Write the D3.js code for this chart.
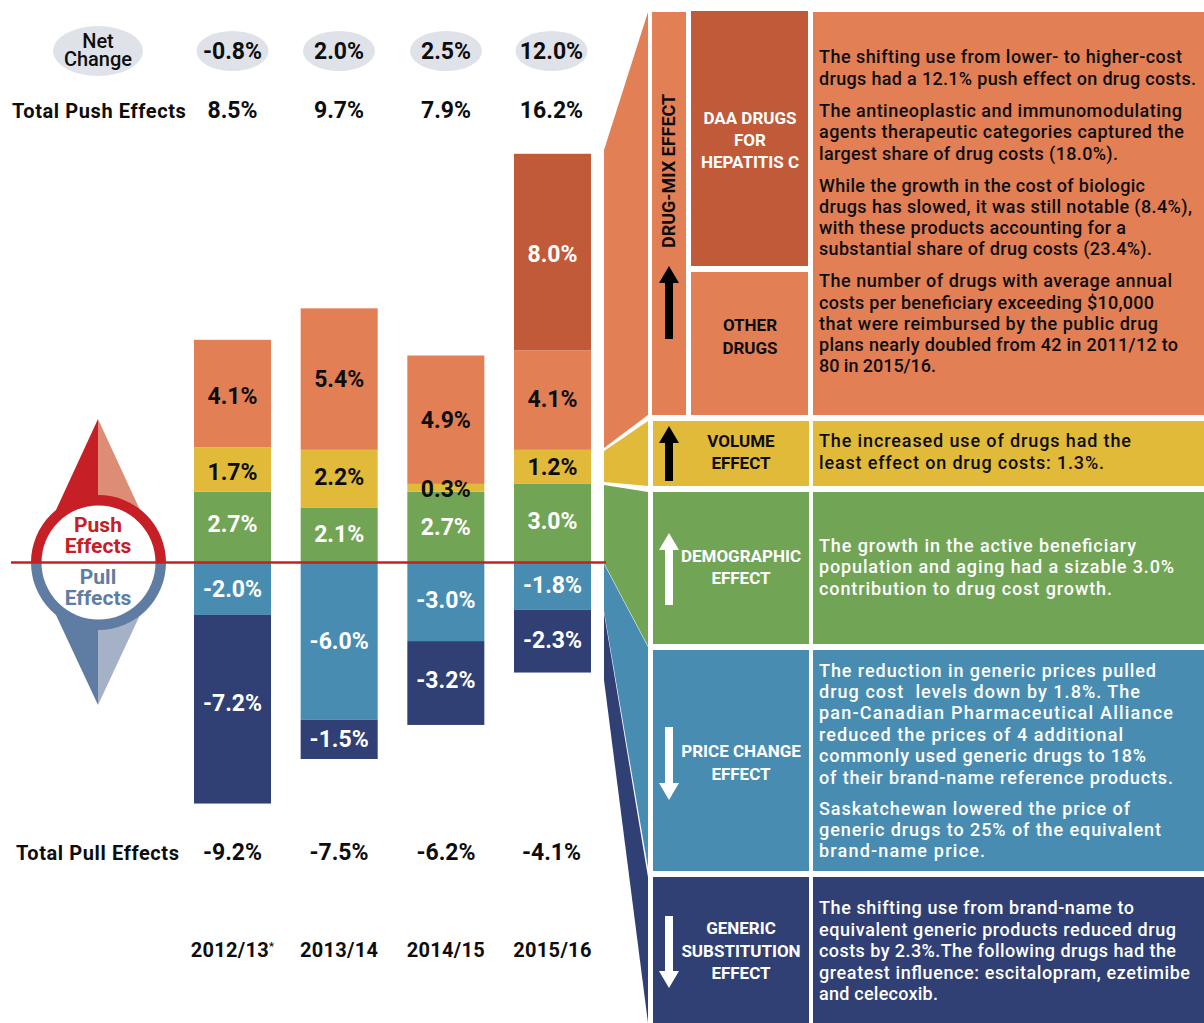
<!DOCTYPE html>
<html><head><meta charset="utf-8">
<script src="https://cdnjs.cloudflare.com/ajax/libs/d3/7.8.5/d3.min.js"></script>
<style>html,body{margin:0;padding:0;background:#fff}svg{display:block}text{font-family:Roboto,sans-serif;white-space:pre}</style>
</head><body><svg id="c" width="1204" height="1023"></svg>
<script>
const years=["2012/13","2013/14","2014/15","2015/16"];
const netChange=["-0.8%","2.0%","2.5%","12.0%"];
const totalPush=["8.5%","9.7%","7.9%","16.2%"];
const totalPull=["-9.2%","-7.5%","-6.2%","-4.1%"];
// bar lengths as drawn in the picture (percentage points), printed labels beside them
const demographic=[2.7,2.1,2.7,3.0];
const volume=[1.7,2.2,0.3,1.3];
const otherDrugs=[4.1,5.4,4.9,3.8];
const daaDrugs=[0,0,0,7.5];
const priceChange=[-2.0,-6.0,-3.0,-1.8];
const genericSub=[-7.2,-1.5,-3.2,-2.4];
const demographicLabels=["2.7%","2.1%","2.7%","3.0%"];
const volumeLabels=["1.7%","2.2%","0.3%","1.2%"];
const otherLabels=["4.1%","5.4%","4.9%","4.1%"];
const daaLabels=["","","","8.0%"];
const priceLabels=["-2.0%","-6.0%","-3.0%","-1.8%"];
const genericLabels=["-7.2%","-1.5%","-3.2%","-2.3%"];

const C={daa:"#c05a38",orange:"#e27f55",yellow:"#e1ba3a",green:"#72a455",blue:"#488db1",navy:"#303f74",red:"#c62026",slate:"#5f7da3",oval:"#e0e2ea",ink:"#0d0d0d"};
const svg=d3.select("#c");
const x=d3.scaleBand().domain(years).range([194,591]).paddingInner(0.278).paddingOuter(0);
const y=d3.scaleLinear().domain([-10,10]).range([562.5+262,562.5-262]);
const cx=d=>x(d)+x.bandwidth()/2;

function txt(g,s,tx,ty,o={}){
  return g.append("text").attr("x",tx).attr("y",ty).attr("text-anchor",o.a||"middle")
   .attr("font-size",o.s||20).attr("font-weight",o.w||700).attr("fill",o.f||C.ink)
   .attr("letter-spacing",o.ls||0).text(s);
}
function poly(pts,f){svg.append("polygon").attr("points",pts.map(p=>p.join(",")).join(" ")).attr("fill",f);}

// wedges
poly([[604,150],[648,12],[648,415],[604,448]],C.orange);
poly([[604,451],[648,421],[648,486],[604,482]],C.yellow);
poly([[604,485],[648,492],[648,646],[604,563]],C.green);
poly([[604,564],[648,647],[648,868],[604,611]],C.blue);
poly([[604,613],[648,877],[648,1023],[604,680]],C.navy);

// stacked bars; label nudges keep each printed figure where the source set it
const g=svg.append("g");
const posSeries=[[demographic,demographicLabels,C.green,"#fff",[-3,-1,0,-2]],[volume,volumeLabels,C.yellow,C.ink,[3,-2,1,0]],[otherDrugs,otherLabels,C.orange,C.ink,[2,0,0,-1]],[daaDrugs,daaLabels,C.daa,"#fff",[0,0,0,2]]];
const negSeries=[[priceChange,priceLabels,C.blue,"#fff",[0,0,-2,-1]],[genericSub,genericLabels,C.navy,"#fff",[-6,0,-3,-1]]];
function stack(series){
  const base=years.map(()=>0);
  series.forEach(([vals,labels,col])=>{
    years.forEach((yr,i)=>{
      const v=vals[i]; if(!v)return;
      const a=base[i],b=a+v; base[i]=b;
      g.append("rect").attr("x",x(yr)).attr("width",x.bandwidth())
       .attr("y",Math.min(y(a),y(b))).attr("height",Math.abs(y(a)-y(b))).attr("fill",col);
    });
  });
  const base2=years.map(()=>0);
  series.forEach(([vals,labels,col,tc,nudge])=>{
    years.forEach((yr,i)=>{
      const v=vals[i]; if(!v)return;
      const a=base2[i],b=a+v; base2[i]=b;
      txt(g,labels[i],cx(yr),(y(a)+y(b))/2+8+nudge[i],{f:tc,s:23});
    });
  });
}
stack(posSeries);stack(negSeries);

// header rows
svg.append("ellipse").attr("cx",98).attr("cy",51).attr("rx",45).attr("ry",25).attr("fill",C.oval);
txt(svg,"Net",98,48,{s:20,w:500});txt(svg,"Change",98,66,{s:20,w:500});
const cols=[232.5,339,446,551.5];
years.forEach((yr,i)=>{
  svg.append("ellipse").attr("cx",cols[i]).attr("cy",51).attr("rx",36).attr("ry",20).attr("fill",C.oval);
  txt(svg,netChange[i],cols[i],59,{s:23});
  txt(svg,totalPush[i],cols[i],118,{s:23});
  txt(svg,totalPull[i],cols[i],860,{s:23});
  const t=txt(svg,yr,cx(yr),957,{s:20,ls:0.3});
  if(i==0) t.append("tspan").attr("dy",-7).attr("font-size",11).text("*");
});
txt(svg,"Total Push Effects",12,118,{a:"start",s:20,ls:0.6});
txt(svg,"Total Pull Effects",16,860,{a:"start",s:20,ls:0.6});

// compass
poly([[98,419],[98,500],[56,510]],C.red);
poly([[98,419],[98,500],[140,510]],"#dd8d75");
poly([[98,705],[98,620],[56,615]],C.slate);
poly([[98,705],[98,620],[140,615]],"#a5b1c7");
const arc=d3.arc().innerRadius(57).outerRadius(67.5);
const comp=svg.append("g").attr("transform","translate(98.5,562.5)");
comp.append("circle").attr("r",60).attr("fill","#fff");
comp.append("path").attr("d",arc({startAngle:-Math.PI/2,endAngle:Math.PI/2})).attr("fill",C.red);
comp.append("path").attr("d",arc({startAngle:Math.PI/2,endAngle:3*Math.PI/2})).attr("fill",C.slate);
txt(svg,"Push",98,532,{s:21,f:C.red});txt(svg,"Effects",98,553,{s:21,f:C.red});
txt(svg,"Pull",98,584,{s:21,f:C.slate});txt(svg,"Effects",98,605,{s:21,f:C.slate});
svg.append("line").attr("x1",11).attr("x2",606).attr("y1",562.5).attr("y2",562.5).attr("stroke",C.red).attr("stroke-width",2.5);

// right panel blocks
const blocks=[[652,12,34,403,C.orange],[691,11,117,255,C.daa],[691,272,117,143,C.orange],[813,12,391,403,C.orange],
[653,421,156,65,C.yellow],[813,421,391,65,C.yellow],[653,492,156,152,C.green],[813,492,391,152,C.green],
[653,650,156,221,C.blue],[813,650,391,221,C.blue],[653,877,156,146,C.navy],[813,877,391,146,C.navy]];
blocks.forEach(b=>svg.append("rect").attr("x",b[0]).attr("y",b[1]).attr("width",b[2]).attr("height",b[3]).attr("fill",b[4]));

function arrow(ax,top,bot,up,f){
  const hw=10,hh=17,sw=4;
  const p=up?[[ax,top],[ax+hw,top+hh],[ax+sw,top+hh],[ax+sw,bot],[ax-sw,bot],[ax-sw,top+hh],[ax-hw,top+hh]]
            :[[ax,bot],[ax+hw,bot-hh],[ax+sw,bot-hh],[ax+sw,top],[ax-sw,top],[ax-sw,bot-hh],[ax-hw,bot-hh]];
  poly(p,f);
}
arrow(669,266,339,true,"#000");
arrow(669,426,481,true,"#000");
arrow(669,533,605,true,"#fff");
arrow(669,727,800,false,"#fff");
arrow(669,916,988,false,"#fff");

const L={s:17,w:700,ls:0};
svg.append("text").attr("transform","translate(675,248) rotate(-90)").attr("font-size",18).attr("font-weight",700).attr("fill",C.ink).text("DRUG-MIX EFFECT");
[["DAA DRUGS",124],["FOR",146],["HEPATITIS C",168]].forEach(d=>txt(svg,d[0],750,d[1],{...L,f:"#fff"}));
[["OTHER",331],["DRUGS",354]].forEach(d=>txt(svg,d[0],750,d[1],{...L}));
[["VOLUME",447],["EFFECT",469]].forEach(d=>txt(svg,d[0],741,d[1],{...L}));
[["DEMOGRAPHIC",562],["EFFECT",584]].forEach(d=>txt(svg,d[0],741,d[1],{...L,f:"#fff"}));
[["PRICE CHANGE",757],["EFFECT",780]].forEach(d=>txt(svg,d[0],741,d[1],{...L,f:"#fff"}));
[["GENERIC",934],["SUBSTITUTION",957],["EFFECT",979]].forEach(d=>txt(svg,d[0],741,d[1],{...L,f:"#fff"}));

// text, baseline, right end, colour
const body=[
["The shifting use from lower- to higher-cost",63,1182,C.ink],["drugs had a 12.1% push effect on drug costs.",85,1196,C.ink],
["The antineoplastic and immunomodulating",117,1182,C.ink],["agents therapeutic categories captured the",138,1184,C.ink],["largest share of drug costs (18.0%).",160,1118,C.ink],
["While the growth in the cost of biologic",192,1145,C.ink],["drugs has slowed, it was still notable (8.4%),",213,1192,C.ink],["with these products accounting for a",234,1126,C.ink],["substantial share of drug costs (23.4%).",255,1152,C.ink],
["The number of drugs with average annual",287,1172,C.ink],["costs per beneficiary exceeding $10,000",309,1154,C.ink],["that were reimbursed by the public drug",330,1158,C.ink],["plans nearly doubled from 42 in 2011/12 to",351,1178,C.ink],["80 in 2015/16.",372,936,C.ink],
["The increased use of drugs had the",447,1131,C.ink],["least effect on drug costs: 1.3%.",469,1104,C.ink],
["The growth in the active beneficiary",552,1136,"#fff"],["population and aging had a sizable 3.0%",573,1174,"#fff"],["contribution to drug cost growth.",595,1112,"#fff"],
["The reduction in generic prices pulled",677,1156,"#fff"],["drug cost  levels down by 1.8%. The",698,1140,"#fff"],["pan-Canadian Pharmaceutical Alliance",719,1173,"#fff"],["reduced the prices of 4 additional",741,1123,"#fff"],["commonly used generic drugs to 18%",762,1146,"#fff"],["of their brand-name reference products.",784,1173,"#fff"],
["Saskatchewan lowered the price of",815,1130,"#fff"],["generic drugs to 25% of the equivalent",836,1161,"#fff"],["brand-name price.",857,985,"#fff"],
["The shifting use from brand-name to",914,1134,"#fff"],["equivalent generic products reduced drug",936,1176,"#fff"],["costs by 2.3%.The following drugs had the",957,1176,"#fff"],["greatest influence: escitalopram, ezetimibe",979,1190,"#fff"],["and celecoxib.",1000,938,"#fff"]];
body.forEach(b=>txt(svg,b[0],819,b[1],{a:"start",s:18,w:500,f:b[3]}).attr("textLength",b[2]-819).attr("lengthAdjust","spacing"));
</script></body></html>
